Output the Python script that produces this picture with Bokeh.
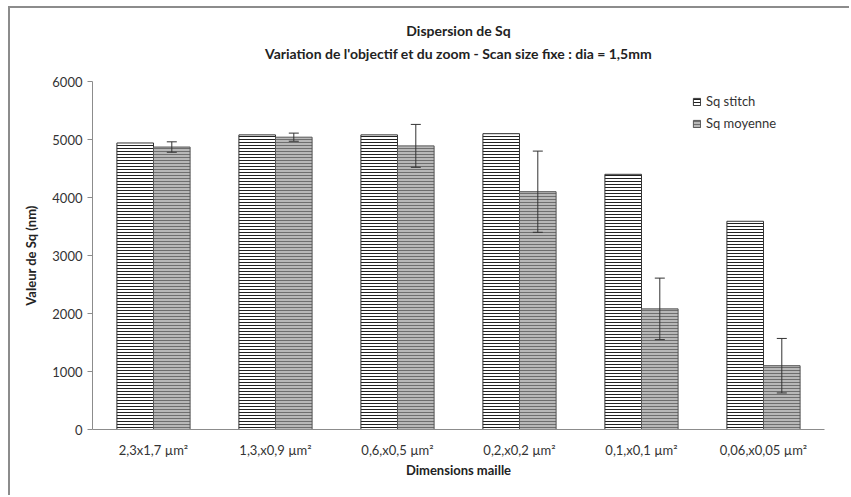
from bokeh.plotting import figure
from bokeh.models import ColumnDataSource, FactorRange, Whisker, TeeHead, Title, Legend, LegendItem, FixedTicker
from bokeh.transform import dodge
from bokeh.embed import file_html
from bokeh.resources import INLINE

categories = ["2,3x1,7 µm²", "1,3,x0,9 µm²", "0,6,x0,5 µm²", "0,2,x0,2 µm²", "0,1,x0,1 µm²", "0,06,x0,05 µm²"]
sq_stitch = [4940, 5080, 5080, 5100, 4400, 3590]
sq_moyenne = [4870, 5040, 4890, 4100, 2080, 1100]
sq_err = [90, 70, 370, 700, 530, 470]

FONT = "Lato"

src = ColumnDataSource(dict(
    cats=categories,
    stitch=sq_stitch,
    moy=sq_moyenne,
    upper=[m + e for m, e in zip(sq_moyenne, sq_err)],
    lower=[m - e for m, e in zip(sq_moyenne, sq_err)],
))

p = figure(width=841, height=489, x_range=FactorRange(*categories), y_range=(0, 6000),
           output_backend="svg", toolbar_location=None,
           min_border_left=82, min_border_right=27, min_border_top=73, min_border_bottom=68)
p.styles = {"border-left": "2px solid #8c8c8c", "border-top": "2px solid #8c8c8c",
            "margin-left": "8px", "margin-top": "6px"}

r1 = p.vbar(x=dodge("cats", -0.15, range=p.x_range), top="stitch", width=0.3, source=src,
            fill_color="white", line_color="#333333", line_width=1,
            hatch_pattern="horizontal_line", hatch_scale=3, hatch_weight=1, hatch_color="#222222")
r2 = p.vbar(x=dodge("cats", 0.15, range=p.x_range), top="moy", width=0.3, source=src,
            fill_color="#b8b8b8", line_color="#555555", line_width=1,
            hatch_pattern="horizontal_line", hatch_scale=3, hatch_weight=1, hatch_color="#6e6e6e")

w = Whisker(base=dodge("cats", 0.15, range=p.x_range), upper="upper", lower="lower", source=src,
            line_color="#333333", line_width=1, level="annotation",
            upper_head=TeeHead(size=10, line_color="#333333", line_width=1),
            lower_head=TeeHead(size=10, line_color="#333333", line_width=1))
p.add_layout(w)

p.add_layout(Title(text=" ", text_font=FONT, text_font_size="12px", standoff=0), "above")
p.add_layout(Title(text="Variation de l'objectif et du zoom - Scan size fixe : dia = 1,5mm", align="center",
                   text_font=FONT, text_font_size="14px", text_font_style="bold", text_color="#222222",
                   standoff=5), "above")
p.add_layout(Title(text="Dispersion de Sq", align="center",
                   text_font=FONT, text_font_size="14px", text_font_style="bold", text_color="#222222",
                   standoff=3), "above")

p.xgrid.grid_line_color = None
p.ygrid.grid_line_color = None
p.outline_line_color = None

p.yaxis.ticker = FixedTicker(ticks=[0, 1000, 2000, 3000, 4000, 5000, 6000])
p.yaxis.axis_label = "Valeur de Sq (nm)"
p.xaxis.axis_label = "Dimensions maille"
for ax in (p.xaxis, p.yaxis):
    ax.axis_line_color = "#8c8c8c"
    ax.major_tick_line_color = "#8c8c8c"
    ax.minor_tick_line_color = None
    ax.major_label_text_font = FONT
    ax.major_label_text_font_size = "13px"
    ax.major_label_text_color = "#333333"
    ax.axis_label_text_font = FONT
    ax.axis_label_text_font_size = "13px"
    ax.axis_label_text_font_style = "bold"
    ax.axis_label_text_color = "#222222"
p.yaxis.major_tick_out = 5
p.yaxis.major_tick_in = 0
p.xaxis.major_tick_line_color = None
p.xaxis.major_label_standoff = 6
p.xaxis.axis_label_standoff = 1
p.yaxis.axis_label_standoff = 10

legend = Legend(items=[LegendItem(label="Sq stitch", renderers=[r1]),
                       LegendItem(label="Sq moyenne", renderers=[r2])],
                location=(600, 298), orientation="vertical", margin=0, padding=5,
                glyph_width=9, glyph_height=9, spacing=6, label_height=16,
                label_text_font=FONT, label_text_font_size="13px", label_text_color="#333333",
                border_line_color=None, background_fill_alpha=0)
p.add_layout(legend)

open("out.html", "w").write(file_html(p, INLINE))
